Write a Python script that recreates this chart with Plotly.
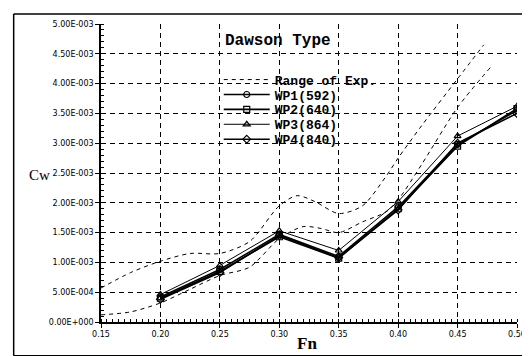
import plotly.graph_objects as go

# ---- data ----
fn = [0.20, 0.25, 0.30, 0.35, 0.40, 0.45, 0.50]
wp1 = [0.42e-3, 0.88e-3, 1.47e-3, 1.10e-3, 1.93e-3, 2.98e-3, 3.55e-3]
wp2 = [0.40e-3, 0.85e-3, 1.43e-3, 1.07e-3, 1.90e-3, 2.95e-3, 3.58e-3]
wp3 = [0.46e-3, 0.95e-3, 1.53e-3, 1.20e-3, 2.02e-3, 3.12e-3, 3.62e-3]
wp4 = [0.38e-3, 0.83e-3, 1.45e-3, 1.08e-3, 1.88e-3, 3.00e-3, 3.50e-3]

range_up_fn = [0.15, 0.175, 0.20, 0.225, 0.25, 0.275, 0.30, 0.315, 0.33, 0.35, 0.37, 0.39, 0.40, 0.42, 0.45, 0.472]
range_up_cw = [0.57e-3, 0.83e-3, 1.02e-3, 1.15e-3, 1.15e-3, 1.35e-3, 1.95e-3, 2.12e-3, 2.02e-3, 1.82e-3,
               1.95e-3, 2.45e-3, 2.75e-3, 3.30e-3, 4.08e-3, 4.65e-3]
range_lo_fn = [0.15, 0.175, 0.20, 0.225, 0.25, 0.275, 0.30, 0.32, 0.335, 0.35, 0.37, 0.39, 0.40, 0.42, 0.45, 0.478]
range_lo_cw = [0.12e-3, 0.17e-3, 0.32e-3, 0.55e-3, 0.78e-3, 0.92e-3, 1.40e-3, 1.60e-3, 1.57e-3, 1.50e-3,
               1.68e-3, 1.85e-3, 2.05e-3, 2.65e-3, 3.60e-3, 4.28e-3]

x_ticks = [0.15, 0.20, 0.25, 0.30, 0.35, 0.40, 0.45, 0.50]
x_ticktext = ["0.15", "0.20", "0.25", "0.30", "0.35", "0.40", "0.45", "0.50"]
y_ticks = [0, 0.5e-3, 1.0e-3, 1.5e-3, 2.0e-3, 2.5e-3, 3.0e-3, 3.5e-3, 4.0e-3, 4.5e-3, 5.0e-3]
y_ticktext = ["0.00E+000", "5.00E-004", "1.00E-003", "1.50E-003", "2.00E-003", "2.50E-003",
              "3.00E-003", "3.50E-003", "4.00E-003", "4.50E-003", "5.00E-003"]

series = [
    ("WP1(592)", wp1, "circle-open", 1.6, "legend2"),
    ("WP2(640)", wp2, "square-open", 1.6, "legend3"),
    ("WP3(864)", wp3, "triangle-up-open", 1.0, "legend4"),
    ("WP4(840)", wp4, "diamond-open", 1.6, "legend5"),
]

fig = go.Figure()

fig.add_trace(go.Scatter(
    x=range_up_fn, y=range_up_cw, mode="lines", name="Range of Exp.",
    line=dict(color="black", width=1, dash="4px,4px", shape="spline", smoothing=0.8),
    legend="legend", legendgroup="range"))
fig.add_trace(go.Scatter(
    x=range_lo_fn, y=range_lo_cw, mode="lines", name="Range of Exp.", showlegend=False,
    line=dict(color="black", width=1, dash="4px,4px", shape="spline", smoothing=0.8),
    legendgroup="range"))

for name, vals, sym, w, lg in series:
    fig.add_trace(go.Scatter(
        x=fn, y=vals, mode="lines+markers", name=name, legend=lg,
        line=dict(color="black", width=w),
        marker=dict(symbol=sym, size=6, color="black", line=dict(color="black", width=1.2))))

L = 93
T = 14
W = 424
H = 300


def px_x(p):
    return (p - L) / W


def px_y(p):
    return (T + H - p) / H


legend_font = dict(family="Liberation Mono", size=13, color="black", weight="bold")
leg_common = dict(xanchor="left", yanchor="middle", bgcolor="rgba(0,0,0,0)",
                  borderwidth=0, font=legend_font, itemwidth=46)

LX = 213
fig.update_layout(
    width=530, height=356,
    margin=dict(l=L, r=530 - L - W, t=T, b=356 - T - H),
    paper_bgcolor="white", plot_bgcolor="white",
    showlegend=True,
    legend=dict(x=px_x(LX), y=px_y(70), **leg_common),
    legend2=dict(x=px_x(LX), y=px_y(85), **leg_common),
    legend3=dict(x=px_x(LX), y=px_y(100), **leg_common),
    legend4=dict(x=px_x(LX), y=px_y(115), **leg_common),
    legend5=dict(x=px_x(LX), y=px_y(130), **leg_common),
    xaxis=dict(
        range=[0.15, 0.50], tickvals=x_ticks, ticktext=x_ticktext,
        showline=True, linecolor="black", linewidth=1.5, mirror=False,
        showgrid=True, gridcolor="black", gridwidth=1, griddash="5px,4px",
        ticks="outside", ticklen=4, tickcolor="black", tickwidth=1.2,
        tickfont=dict(family="DejaVu Sans", size=8, color="black"),
        minor=dict(dtick=0.005, ticks="inside", ticklen=3, tickcolor="black", showgrid=False),
        zeroline=False,
    ),
    yaxis=dict(
        range=[0, 5.0e-3], tickvals=y_ticks, ticktext=y_ticktext,
        showline=True, linecolor="black", linewidth=1.5, mirror=False,
        showgrid=True, gridcolor="black", gridwidth=1, griddash="5px,4px",
        ticks="outside", ticklen=4, tickcolor="black", tickwidth=1.2,
        tickfont=dict(family="DejaVu Sans", size=8, color="black"),
        minor=dict(dtick=0.1e-3, ticks="inside", ticklen=3, tickcolor="black", showgrid=False),
        zeroline=False,
    ),
    annotations=[
        dict(text="<b>Dawson Type</b>", x=px_x(217), y=px_y(31), xref="paper", yref="paper",
             xanchor="left", yanchor="middle", showarrow=False,
             font=dict(family="Liberation Mono", size=16, color="black")),
        dict(text="Cw", x=px_x(30), y=px_y(166), xref="paper", yref="paper",
             xanchor="center", yanchor="middle", showarrow=False,
             font=dict(family="Liberation Serif", size=15, color="black")),
        dict(text="<b>Fn</b>", x=px_x(303), y=px_y(336), xref="paper", yref="paper",
             xanchor="center", yanchor="middle", showarrow=False,
             font=dict(family="Liberation Serif", size=17, color="black")),
    ],
    shapes=[
        dict(type="line", xref="paper", yref="paper",
             x0=px_x(4), x1=px_x(530), y0=px_y(4), y1=px_y(4),
             line=dict(color="black", width=1.5)),
        dict(type="line", xref="paper", yref="paper",
             x0=px_x(4), x1=px_x(4), y0=px_y(4), y1=px_y(348),
             line=dict(color="black", width=1.5)),
        dict(type="line", xref="paper", yref="paper",
             x0=px_x(4), x1=px_x(530), y0=px_y(348), y1=px_y(348),
             line=dict(color="black", width=1.5)),
    ],
)

fig.write_html("out.html")
